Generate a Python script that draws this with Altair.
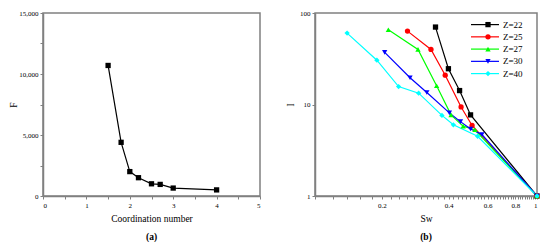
import altair as alt
import pandas as pd

# ---- panel (a) ----
coord_number = [1.5, 1.8, 2.0, 2.2, 2.5, 2.7, 3.0, 4.0]
F_values = [10700, 4400, 2000, 1500, 1000, 950, 650, 500]

# ---- panel (b) ----
series_names = ["Z=22", "Z=25", "Z=27", "Z=30", "Z=40"]
sw_22 = [0.349, 0.399, 0.448, 0.502, 1.0]
i_22 = [70.2, 24.6, 14.2, 7.7, 1.0]
sw_25 = [0.261, 0.333, 0.386, 0.455, 0.510, 1.0]
i_25 = [63.4, 40.0, 20.9, 9.4, 5.9, 1.0]
sw_27 = [0.214, 0.291, 0.353, 0.41, 0.465, 0.525, 1.0]
i_27 = [65.7, 40.0, 16.0, 7.7, 5.8, 5.3, 1.0]
sw_30 = [0.206, 0.268, 0.319, 0.403, 0.452, 0.502, 0.565, 1.0]
i_30 = [37.1, 19.6, 13.5, 8.1, 6.5, 5.4, 4.7, 1.0]
sw_40 = [0.1395, 0.190, 0.238, 0.293, 0.373, 0.420, 0.540, 1.0]
i_40 = [60.3, 30.5, 15.7, 13.3, 7.6, 6.0, 4.5, 1.0]

colors = ["#000000", "#ff0000", "#00ff00", "#0000ff", "#00ffff"]
shapes = ["square", "circle", "triangle-up", "triangle-down", "diamond"]

FONT = "Liberation Serif, Times New Roman, serif"
GRAY = "#808080"

df_a = pd.DataFrame({"cn": coord_number, "F": F_values})

rows = []
for name, xs, ys in zip(series_names, [sw_22, sw_25, sw_27, sw_30, sw_40],
                        [i_22, i_25, i_27, i_30, i_40]):
    for k, (x, y) in enumerate(zip(xs, ys)):
        rows.append({"Z": name, "Sw": x, "I": y, "idx": k})
df_b = pd.DataFrame(rows)
df_leg = pd.DataFrame({"Z": series_names})

# ---- chart (a) ----
xa_vals = [i * 0.5 for i in range(11)]
ya_vals = [i * 2500 for i in range(7)]
xa = alt.X("cn:Q", scale=alt.Scale(domain=[0, 5], nice=False),
           axis=alt.Axis(title="Coordination number", values=xa_vals,
                         labelExpr="datum.value % 1 === 0 ? format(datum.value, 'd') : ''",
                         titlePadding=5))
ya = alt.Y("F:Q", scale=alt.Scale(domain=[0, 15000], nice=False),
           axis=alt.Axis(title="F", values=ya_vals,
                         labelExpr="datum.value % 5000 === 0 ? format(datum.value, ',') : ''",
                         titlePadding=0))
line_a = alt.Chart(df_a).mark_line(color="black", strokeWidth=1.2).encode(x=xa, y=ya)
pts_a = alt.Chart(df_a).mark_point(shape="square", filled=True, color="black",
                                   size=28, opacity=1).encode(x=xa, y=ya)
left = alt.layer(line_a, pts_a).properties(
    width=217, height=183,
    title=alt.TitleParams("(a)", orient="bottom", font=FONT, fontSize=9.5,
                          fontWeight="bold", offset=9))

# ---- chart (b) ----
minor = sorted(set([round(0.1 + 0.02 * i, 2) for i in range(46)]))
xb = alt.X("Sw:Q", scale=alt.Scale(type="log", domain=[0.1, 1], nice=False),
           axis=alt.Axis(title="Sw", values=minor,
                         labelExpr="indexof([0.2, 0.4, 0.6, 0.8, 1], datum.value) >= 0 ? datum.label : ''",
                         titlePadding=5))
yb = alt.Y("I:Q", scale=alt.Scale(type="log", domain=[1, 100], nice=False),
           axis=alt.Axis(title="I", values=[1, 10, 100], format="d", titlePadding=4))
color = alt.Color("Z:N", scale=alt.Scale(domain=series_names, range=colors), legend=None)
shape = alt.Shape("Z:N", scale=alt.Scale(domain=series_names, range=shapes), legend=None)

lines_b = alt.Chart(df_b).mark_line(strokeWidth=1.2).encode(
    x=xb, y=yb, color=color, order="idx:Q")
pts_b = alt.Chart(df_b).mark_point(filled=True, size=28, opacity=1).encode(
    x=xb, y=yb, color=color, shape=shape)
data_layer = alt.layer(lines_b, pts_b)

leg_y = alt.Y("Z:N", sort=series_names,
              scale=alt.Scale(type="point", range=[11.6, 60.6], padding=0), axis=None)
leg_rule = alt.Chart(df_leg).mark_rule(strokeWidth=1.2).encode(
    x=alt.value(156), x2=alt.value(184), y=leg_y, color=color)
leg_pt = alt.Chart(df_leg).mark_point(filled=True, size=28, opacity=1).encode(
    x=alt.value(173), y=leg_y, color=color, shape=shape)
leg_txt = alt.Chart(df_leg).mark_text(align="left", baseline="middle", font=FONT,
                                      fontSize=9, color="black").encode(
    x=alt.value(188), y=leg_y, text="Z:N")
legend_layer = alt.layer(leg_rule, leg_pt, leg_txt)

right = alt.layer(data_layer, legend_layer).resolve_scale(y="independent").properties(
    width=222, height=183,
    title=alt.TitleParams("(b)", orient="bottom", font=FONT, fontSize=9.5,
                          fontWeight="bold", offset=9))

chart = alt.hconcat(left, right, spacing=55, bounds="flush",
                    padding={"left": 0, "top": 0, "right": 0, "bottom": 0}).configure_view(
    stroke=GRAY, strokeWidth=1.5
).configure_axis(
    domainColor=GRAY, domainWidth=1.5, tickColor=GRAY, tickSize=3, tickWidth=1,
    labelFont=FONT, labelFontSize=7, labelColor="black", labelPadding=2,
    titleFont=FONT, titleFontSize=9.5, titleFontWeight="normal", titleColor="black",
    grid=False
)

chart.save("out.html", embed_options={"renderer": "svg", "actions": False})
